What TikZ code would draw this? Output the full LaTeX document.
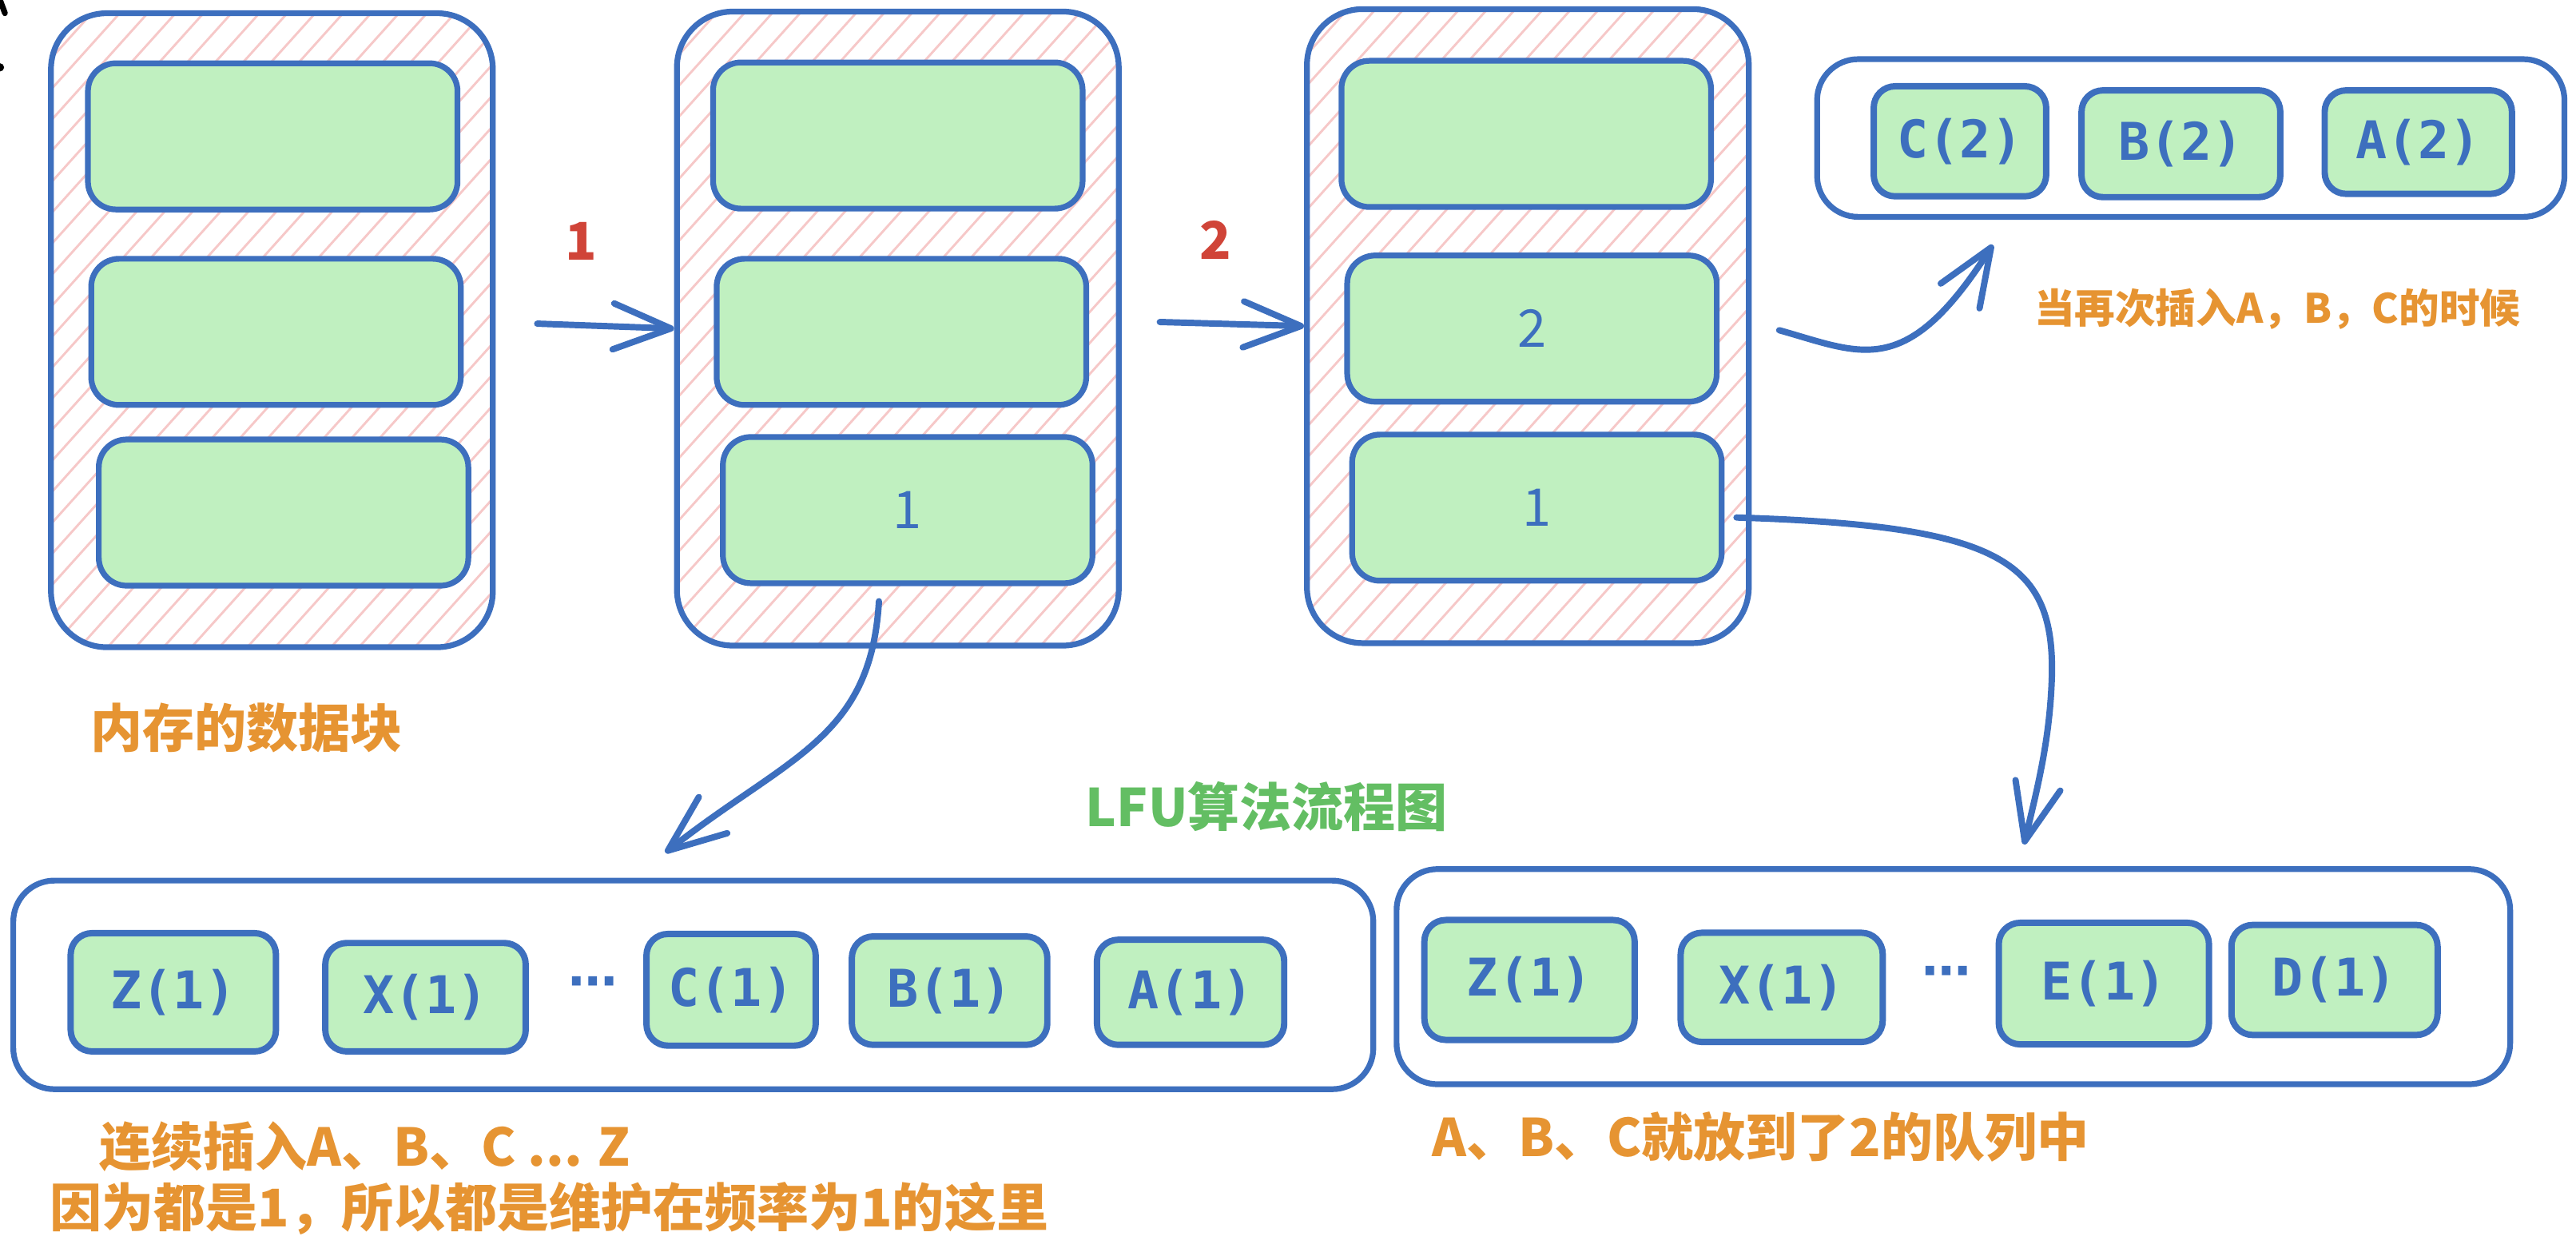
\documentclass[tikz,border=0pt]{standalone}
\usepackage{fontspec}
\newfontfamily\cjk{Noto Sans CJK SC}
\newfontfamily\mono{DejaVu Sans Mono}
\newfontfamily\dejavu{DejaVu Sans}
\usetikzlibrary{arrows.meta}
\definecolor{lineblue}{RGB}{61,111,190}
\definecolor{slotgreen}{RGB}{192,240,192}
\definecolor{hatchpink}{RGB}{246,200,200}
\definecolor{noteorange}{RGB}{230,148,50}
\definecolor{stepred}{RGB}{208,68,56}
\definecolor{titlegreen}{RGB}{99,190,99}
\begin{document}
\begin{tikzpicture}[x=.02cm, y=-.02cm, line join=round,
    >={Straight Barb[length=7mm,width=5.6mm,round]},
    mem/.style={draw=lineblue, line width=2pt, rounded corners=6.8mm, minimum width=5.38cm, minimum height=7.72cm},
    slot/.style={draw=lineblue, fill=slotgreen, line width=2pt, rounded corners=3.4mm, minimum width=4.5cm, minimum height=1.78cm, text=lineblue, font=\cjk\fontsize{18}{20}\selectfont},
    queue/.style={draw=lineblue, line width=2pt, rounded corners=5mm},
    item/.style={draw=lineblue, fill=slotgreen, line width=2.2pt, rounded corners=2.6mm, text=lineblue, font=\mono\bfseries\fontsize{18}{20}\selectfont},
    dots/.style={text=lineblue, font=\dejavu\bfseries\fontsize{17}{18}\selectfont},
    note/.style={text=noteorange, font=\cjk\bfseries\fontsize{18}{22}\selectfont, anchor=west, inner sep=0pt},
    arr/.style={->, draw=lineblue, line width=2.2pt, line cap=round}]
\useasboundingbox (0,0) rectangle (1568,766.5);
\draw[line width=2pt, line cap=round] (0,0) -- (3,8);
\fill (0,41) circle (2.5);

\foreach \n/\x/\y in {m1/165.5/201, m2/546.5/200, m3/930/198.5}{
  \begin{scope}
    \clip[rounded corners=6.8mm] (\x-134,\y-193) rectangle (\x+134,\y+193);
    \foreach \i in {-22,...,16} \draw[hatchpink, line width=.8pt] (\x-134+\i*17,\y+193) -- ++(450,-500);
  \end{scope}
  \node[mem] (\n) at (\x,\y) {};
}
\foreach \n/\x/\y/\t in {m1a/166/83/{}, m1b/168/202/{}, m1c/172.6/312/{}, m2a/546.5/82.5/{}, m2b/548.7/202/{}, m2c/552.5/310.5/1, m3a/929/81.5/{}, m3b/932.5/200/2, m3c/935.5/309/1}
  \node[slot] (\n) at (\x,\y) {\t};

\node[text=stepred, font=\cjk\bfseries\fontsize{18}{20}\selectfont] (step1) at (353.5,147) {1};
\node[text=stepred, font=\cjk\bfseries\fontsize{18}{20}\selectfont] (step2) at (740,146) {2};
\coordinate (s1) at (327,197);
\coordinate (s2) at (706,196);
\draw[arr] (s1) -- (m2.west);
\draw[arr] (s2) -- (m3.west);

% queue for frequency 2
\node[queue, minimum width=9.1cm, minimum height=1.92cm] (q2) at (1333.5,84) {};
\foreach \n/\x/\y/\w/\h/\t in {q2c/1193/86/2.1/1.34/C(2), q2b/1327.5/87.5/2.42/1.3/B(2), q2a/1472/86.5/2.28/1.26/A(2)}
  \node[item, minimum width=\w cm, minimum height=\h cm] (\n) at (\x,\y) {\t};
\node[note, font=\cjk\bfseries\fontsize{14}{16}\selectfont] (again) at (1238,188) {当再次插入A，B，C的时候};
\coordinate (s3) at (1083,201);
\coordinate (e3) at (1213,149);
\draw[arr] (s3) .. controls (1133,215) and (1160,232) .. (e3);

% queues for frequency 1
\node[queue, minimum width=16.56cm, minimum height=2.54cm] (qa) at (422,599.5) {};
\foreach \n/\x/\y/\w/\h/\t in {qaz/105.5/604/2.5/1.44/Z(1), qax/259/607/2.44/1.32/X(1), qac/445/602.5/2.06/1.36/C(1), qab/578/603/2.38/1.32/B(1), qaa/724.7/604/2.28/1.28/A(1)}
  \node[item, minimum width=\w cm, minimum height=\h cm] (\n) at (\x,\y) {\t};
\node[dots] (qadots) at (361,601) {⋯};

\node[queue, minimum width=13.56cm, minimum height=2.62cm] (qb) at (1189,594.5) {};
\foreach \n/\x/\y/\w/\h/\t in {qbz/931/596.5/2.56/1.46/Z(1), qbx/1084.5/601/2.46/1.33/X(1), qbe/1280.6/598.7/2.56/1.48/E(1), qbd/1421/596.5/2.51/1.34/D(1)}
  \node[item, minimum width=\w cm, minimum height=\h cm] (\n) at (\x,\y) {\t};
\node[dots] (qbdots) at (1185,595) {⋯};

\coordinate (s4) at (535,366);
\coordinate (e4) at (405,519);
\draw[arr] (s4) .. controls (530,450) and (480,460) .. (e4);
\coordinate (s5) at (1057,315);
\coordinate (e5) at (1232,514);
\draw[arr] (s5) .. controls (1215,320) and (1250,340) .. (1249,410) .. controls (1248,450) and (1240,480) .. (e5);

\node[note] (memlbl) at (55,443) {内存的数据块};
\node[text=titlegreen, font=\cjk\bfseries\fontsize{18}{20}\selectfont] (title) at (771,491) {LFU算法流程图};
\node[note] (seq) at (60,698) {连续插入A、B、C ... Z};
\node[note] (why) at (30,735.5) {因为都是1，所以都是维护在频率为1的这里};
\node[note] (moved) at (871.6,692) {A、B、C就放到了2的队列中};
\end{tikzpicture}
\end{document}
